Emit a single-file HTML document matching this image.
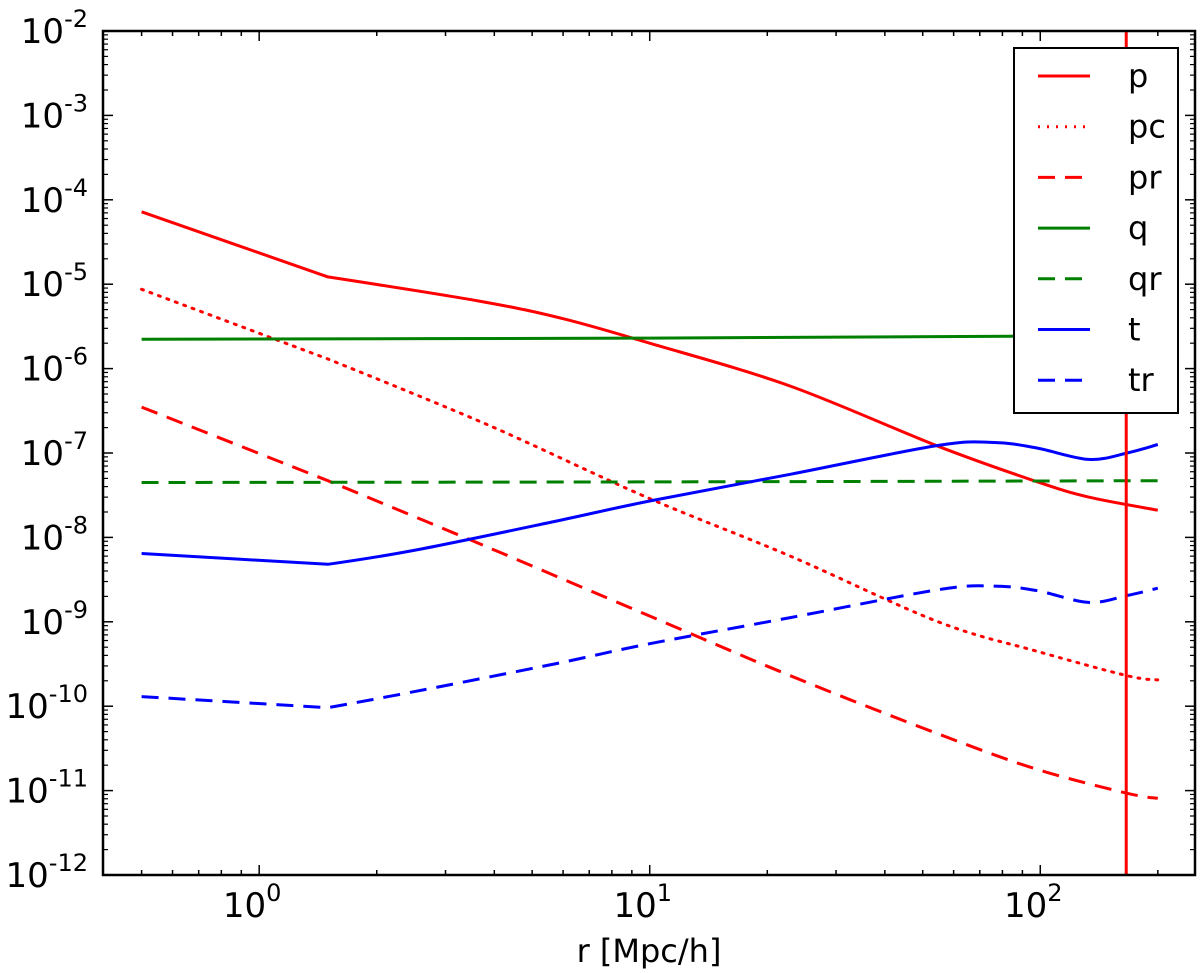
<!DOCTYPE html>
<html><head><meta charset="utf-8"><style>
html,body{margin:0;padding:0;background:#fff;}
svg{display:block;font-family:"DejaVu Sans","Liberation Sans",sans-serif;}
</style></head><body>
<svg id="chart" width="1200" height="973" viewBox="0 0 1200 973" xmlns="http://www.w3.org/2000/svg">
<defs><clipPath id="plotclip"><rect x="103" y="31" width="1092" height="844"/></clipPath></defs>
<rect x="0" y="0" width="1200" height="973" fill="#fff"/>
<g id="series" clip-path="url(#plotclip)"></g>
<g id="legend"></g>
<g id="axes"></g>
<text x="649" y="962" font-size="32" text-anchor="middle">r [Mpc/h]</text>
</svg>
<script>
const seriesNames = ["p","pc","pr","q","qr","t","tr"];
const pR  = [0.5,1.5,3.66,6,10,22.9,54.8,97.7,133,200];
const pV  = [7.2e-5,1.22e-5,6.3e-6,3.9e-6,2.0e-6,6.2e-7,1.2e-7,4.6e-8,3.0e-8,2.1e-8];
const pcR = [0.5,1.5,3.81,9.8,22.9,54.8,97.7,167,200];
const pcV = [8.7e-6,1.3e-6,2.2e-7,3.0e-8,6.0e-9,1.0e-9,4.5e-10,2.3e-10,2.05e-10];
const prR = [0.5,1.5,3.81,9.7,22.9,54.8,97.7,167,200];
const prV = [3.5e-7,4.7e-8,7.8e-9,1.24e-9,2.3e-10,4.7e-11,1.8e-11,9.3e-12,8.1e-12];
const qR  = [0.5,10,84,200];
const qV  = [2.23e-6,2.3e-6,2.42e-6,2.45e-6];
const qrR = [0.5,10,200];
const qrV = [4.47e-8,4.55e-8,4.7e-8];
const tR  = [0.5,1.5,2.52,5.76,10,22.9,54.8,76.3,97.7,133,167,200];
const tV  = [6.45e-9,4.8e-9,7.1e-9,1.56e-8,2.7e-8,5.6e-8,1.23e-7,1.33e-7,1.15e-7,8.4e-8,1.0e-7,1.26e-7];
const trR = [0.5,1.5,2.52,5.76,10,22.9,54.8,76.3,97.7,133,167,200];
const trV = [1.3e-10,9.6e-11,1.5e-10,3.2e-10,5.5e-10,1.12e-9,2.4e-9,2.65e-9,2.35e-9,1.7e-9,2.05e-9,2.5e-9];
const vlineR = [166];
const yTickExps = [-2,-3,-4,-5,-6,-7,-8,-9,-10,-11,-12];
const xTickExps = [0,1,2];

const X0=103,X1=1195,Y0=31,Y1=875;
const xMinL=Math.log10(0.3982), xMaxL=Math.log10(249);
const yMinL=-12, yMaxL=-2;
function xs(r){return X0+(Math.log10(r)-xMinL)/(xMaxL-xMinL)*(X1-X0);}
function ys(v){return Y1-(Math.log10(v)-yMinL)/(yMaxL-yMinL)*(Y1-Y0);}
const NS="http://www.w3.org/2000/svg";
function mk(tag,attrs,parent){const e=document.createElementNS(NS,tag);for(const k in attrs)e.setAttribute(k,attrs[k]);parent.appendChild(e);return e;}
function smoothPath(P){
  // kinks at 1.5 are real (piecewise); smooth elsewhere with Catmull-Rom
  let d="M"+P[0][0].toFixed(1)+","+P[0][1].toFixed(1);
  for(let i=0;i<P.length-1;i++){
    const p0=P[i-1]||P[i], p1=P[i], p2=P[i+1], p3=P[i+2]||P[i+1];
    const k=1/6;
    const sharp1 = P[i].sharp, sharp2 = P[i+1].sharp;
    const c1=sharp1?p1:[p1[0]+(p2[0]-p0[0])*k, p1[1]+(p2[1]-p0[1])*k];
    const c2=sharp2?p2:[p2[0]-(p3[0]-p1[0])*k, p2[1]-(p3[1]-p1[1])*k];
    d+=" C"+c1[0].toFixed(1)+","+c1[1].toFixed(1)+" "+c2[0].toFixed(1)+","+c2[1].toFixed(1)+" "+p2[0].toFixed(1)+","+p2[1].toFixed(1);
  }
  return d;
}

const styles={
 p:{c:"#ff0000",d:""}, pc:{c:"#ff0000",d:"2,7"}, pr:{c:"#ff0000",d:"17,10"},
 q:{c:"#008000",d:""}, qr:{c:"#008000",d:"17,10"}, t:{c:"#0000ff",d:""}, tr:{c:"#0000ff",d:"17,10"}
};
const data={p:[pR,pV],pc:[pcR,pcV],pr:[prR,prV],q:[qR,qV],qr:[qrR,qrV],t:[tR,tV],tr:[trR,trV]};
const sg=document.getElementById('series');
seriesNames.forEach(n=>{
  const [R,V]=data[n];
  const P=R.map((r,i)=>{const a=[xs(r),ys(V[i])]; a.sharp=(r===1.5); return a;});
  const a={d:smoothPath(P),fill:"none",stroke:styles[n].c,"stroke-width":3,"stroke-linejoin":"round"};
  if(styles[n].d)a["stroke-dasharray"]=styles[n].d;
  if(n==="pc")a["stroke-linecap"]="round";
  const el=mk('path',a,sg);
  
  
});
vlineR.forEach(r=>{
  const el=mk('line',{x1:xs(r),x2:xs(r),y1:Y0,y2:Y1,stroke:"#ff0000","stroke-width":3},sg);
  
  
});

const lg=document.getElementById('legend');
const box=mk('rect',{x:1014,y:48,width:164,height:365,fill:"#fff",stroke:"#000","stroke-width":2},lg);


seriesNames.forEach((n,i)=>{
  const y=76+i*50.7;
  const a={x1:1038,x2:1090,y1:y,y2:y,stroke:styles[n].c,"stroke-width":3};
  if(styles[n].d)a["stroke-dasharray"]=styles[n].d;
  const l=mk('line',a,lg);
  
  
  const t=mk('text',{x:1128,y:y+11,"font-size":32},lg);
  t.textContent=n;
  
  
});

const ag=document.getElementById('axes');
const frame=mk('rect',{x:X0,y:Y0,width:X1-X0,height:Y1-Y0,fill:"none",stroke:"#000","stroke-width":2.5},ag);


for(let e=-12;e<=-2;e++){
  const y=ys(Math.pow(10,e));
  mk('line',{x1:X0,x2:X0+10,y1:y,y2:y,stroke:"#000","stroke-width":1.5},ag);
  mk('line',{x1:X1,x2:X1-10,y1:y,y2:y,stroke:"#000","stroke-width":1.5},ag);
  if(e<-2)for(let m=2;m<=9;m++){
    const ym=ys(m*Math.pow(10,e));
    mk('line',{x1:X0,x2:X0+5,y1:ym,y2:ym,stroke:"#000","stroke-width":1.2},ag);
    mk('line',{x1:X1,x2:X1-5,y1:ym,y2:ym,stroke:"#000","stroke-width":1.2},ag);
  }
}
yTickExps.forEach(e=>{
  const y=ys(Math.pow(10,e));
  const t=mk('text',{x:88,y:y+12,"font-size":34,"text-anchor":"end"},ag);
  t.innerHTML='10<tspan dy="-16" font-size="24">'+e+'</tspan>';
  
  
});
for(let e=-1;e<=2;e++){
  for(let m=1;m<=9;m++){
    const r=m*Math.pow(10,e);
    const x=xs(r);
    if(x<X0+1||x>X1-1)continue;
    const len=m===1?10:5;
    mk('line',{x1:x,x2:x,y1:Y1,y2:Y1-len,stroke:"#000","stroke-width":1.5},ag);
    mk('line',{x1:x,x2:x,y1:Y0,y2:Y0+len,stroke:"#000","stroke-width":1.5},ag);
  }
}
xTickExps.forEach(e=>{
  const x=xs(Math.pow(10,e));
  const t=mk('text',{x:x-7,y:917,"font-size":34,"text-anchor":"middle"},ag);
  t.innerHTML='10<tspan dy="-16" font-size="24">'+e+'</tspan>';
  
  
});
</script>
</body></html>
